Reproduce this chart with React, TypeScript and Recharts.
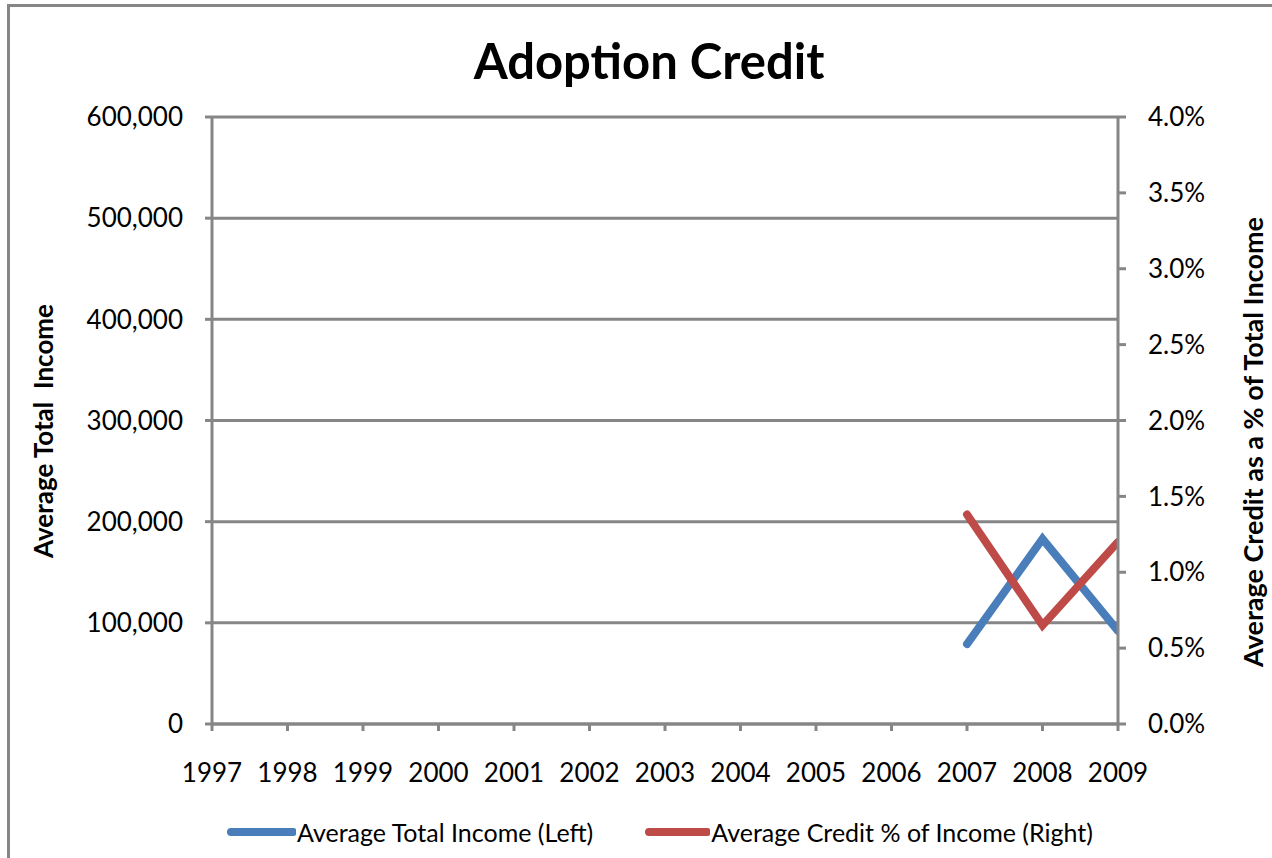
import React from "react";
import {
  LineChart,
  Line,
  XAxis,
  YAxis,
  CartesianGrid,
  Label,
} from "recharts";

const years = ["1997","1998","1999","2000","2001","2002","2003","2004","2005","2006","2007","2008","2009"];
const avgIncome: (number | null)[] = [null,null,null,null,null,null,null,null,null,null,79000,183000,92000];
const creditPct: (number | null)[] = [null,null,null,null,null,null,null,null,null,null,1.38,0.65,1.2];
const leftTicks = [0,100000,200000,300000,400000,500000,600000];
const rightTicks = [0,0.5,1,1.5,2,2.5,3,3.5,4];

const data = years.map((y, i) => ({ year: y, income: avgIncome[i], pct: creditPct[i] }));

const FONT = "Lato, 'Liberation Sans', sans-serif";
const GRAY = "#868686";
const BLUE = "#4a7ebb";
const RED = "#be4b48";

export default function App() {
  return (
    <div style={{ position: "absolute", left: 0, top: 0, width: 1272, height: 858, overflow: "hidden", background: "#fff", fontFamily: FONT }}>
      <div style={{ position: "absolute", left: 7, top: 4, width: 1400, height: 1000, border: `3px solid ${GRAY}`, boxSizing: "border-box" }} />
      <div style={{ position: "absolute", left: 0, top: 28, width: 1298, textAlign: "center", fontSize: 49, fontWeight: 700, color: "#000", lineHeight: "64px" }}>
        Adoption Credit
      </div>
      <div style={{ position: "absolute", left: 0, top: 0 }}>
        <LineChart width={1272} height={858} data={data} margin={{ top: 117, right: 0, bottom: 0, left: 0 }} style={{ fontFamily: FONT }}>
          <CartesianGrid yAxisId="left" horizontal vertical={false} stroke={GRAY} strokeWidth={3} />
          <XAxis
            dataKey="year"
            height={134}
            allowDataOverflow
            axisLine={{ stroke: GRAY, strokeWidth: 3 }}
            tickLine={{ stroke: GRAY, strokeWidth: 3 }}
            tickSize={7}
            tickMargin={33}
            tick={{ fill: "#000", fontSize: 26 }}
            interval={0}
          />
          <YAxis
            yAxisId="left"
            width={212}
            domain={[0, 600000]}
            ticks={leftTicks}
            tickFormatter={(v: number) => v.toLocaleString("en-US")}
            axisLine={{ stroke: GRAY, strokeWidth: 3 }}
            tickLine={{ stroke: GRAY, strokeWidth: 3 }}
            tickSize={7}
            tickMargin={22}
            tick={{ fill: "#000", fontSize: 26 }}
          >
            <Label
              content={() => (
                <text x={46} y={431} transform="rotate(-90, 46, 431)" textAnchor="middle" dominantBaseline="middle" fontSize={26} fontWeight={700} fill="#000" style={{ whiteSpace: "pre" }}>
                  Average Total  Income
                </text>
              )}
            />
          </YAxis>
          <YAxis
            yAxisId="right"
            orientation="right"
            width={154}
            domain={[0, 4]}
            ticks={rightTicks}
            tickFormatter={(v: number) => v.toFixed(1) + "%"}
            axisLine={{ stroke: GRAY, strokeWidth: 3 }}
            tickLine={{ stroke: GRAY, strokeWidth: 3 }}
            tickSize={8}
            tickMargin={22}
            tick={{ fill: "#000", fontSize: 26, textAnchor: "start" }}
          >
            <Label
              content={() => (
                <text x={1256} y={442} transform="rotate(-90, 1256, 442)" textAnchor="middle" dominantBaseline="middle" fontSize={27} fontWeight={700} fill="#000">
                  Average Credit as a % of Total Income
                </text>
              )}
            />
          </YAxis>
          <Line yAxisId="left" type="linear" dataKey="income" stroke={BLUE} strokeWidth={8} strokeLinecap="round" dot={false} isAnimationActive={false} />
          <Line yAxisId="right" type="linear" dataKey="pct" stroke={RED} strokeWidth={8} strokeLinecap="round" dot={false} isAnimationActive={false} />
        </LineChart>
      </div>
      <div style={{ position: "absolute", left: 226, top: 814, height: 36, display: "flex", alignItems: "center", fontSize: 25, color: "#000", whiteSpace: "nowrap" }}>
        <svg width={70} height={12} style={{ marginRight: 1 }}>
          <line x1={5} y1={6} x2={67} y2={6} stroke={BLUE} strokeWidth={8} strokeLinecap="round" />
        </svg>
        <span>Average Total Income (Left)</span>
        <svg width={66} height={12} style={{ marginLeft: 51, marginRight: 1 }}>
          <line x1={5} y1={6} x2={63} y2={6} stroke={RED} strokeWidth={8} strokeLinecap="round" />
        </svg>
        <span>Average Credit % of Income (Right)</span>
      </div>
    </div>
  );
}
